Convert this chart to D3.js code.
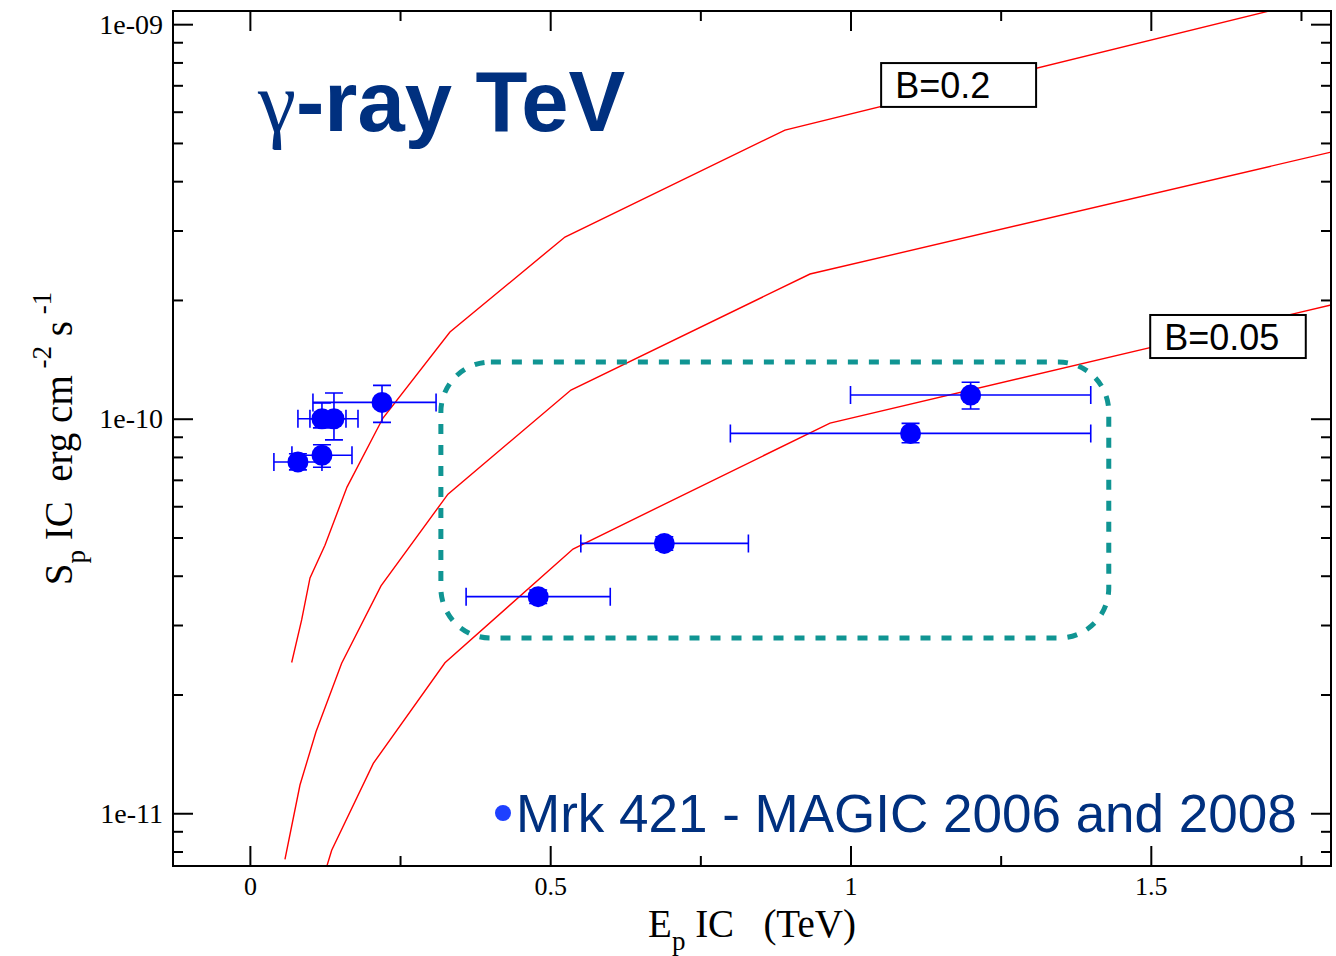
<!DOCTYPE html>
<html>
<head>
<meta charset="utf-8">
<script src="https://cdn.jsdelivr.net/npm/d3@7"></script>
<style>
  body { margin: 0; background: #fff; }
  svg { display: block; }
  text { white-space: pre; }
</style>
</head>
<body>
<svg id="chart" width="1336" height="956"></svg>
<script>
// ---- Axis ticks ----
const xMajorTicks = [0, 0.5, 1, 1.5];
const xTickLabels = ["0", "0.5", "1", "1.5"];
const xMinorTicks = [0.25, 0.75, 1.25, 1.75];
const yMajorTicks = [1e-11, 1e-10, 1e-9];
const yTickLabels = ["1e-11", "1e-10", "1e-09"];
const yMinorTicks = [8e-12, 9e-12,
  2e-11, 3e-11, 4e-11, 5e-11, 6e-11, 7e-11, 8e-11, 9e-11,
  2e-10, 3e-10, 4e-10, 5e-10, 6e-10, 7e-10, 8e-10, 9e-10];

// ---- Model curves: E_p IC (TeV) vs S_p IC (erg cm^-2 s^-1) ----
const curveB02E = [0.0696, 0.0862, 0.1001, 0.1250, 0.1617, 0.2216, 0.3331, 0.5246, 0.8909, 1.80];
const curveB02S = [2.41e-11, 3.09e-11, 3.95e-11, 4.78e-11, 6.71e-11, 1.004e-10, 1.659e-10, 2.888e-10, 5.39e-10, 1.18e-9];

const curveMidE = [0.0584, 0.0834, 0.1101, 0.1528, 0.2183, 0.3298, 0.5346, 0.9326, 1.80];
const curveMidS = [7.64e-12, 1.179e-11, 1.609e-11, 2.40e-11, 3.77e-11, 6.44e-11, 1.182e-10, 2.327e-10, 4.74e-10];

const curveB005E = [0.1279, 0.1362, 0.2055, 0.3248, 0.5380, 0.9659, 1.80];
const curveB005S = [7.32e-12, 8.06e-12, 1.338e-11, 2.406e-11, 4.675e-11, 9.75e-11, 1.942e-10];

// ---- Mrk 421, MAGIC 2006 and 2008 ----
const mrkE     = [0.08, 0.12, 0.12, 0.14, 0.22, 0.48, 0.69, 1.10, 1.20];
const mrkS     = [7.77e-11, 8.08e-11, 1.0e-10, 1.0e-10, 1.10e-10, 3.54e-11, 4.83e-11, 9.18e-11, 1.148e-10];
const mrkELow  = [0.04, 0.07, 0.08, 0.10, 0.105, 0.36, 0.551, 0.80, 1.00];
const mrkEHigh = [0.12, 0.17, 0.16, 0.18, 0.31, 0.60, 0.830, 1.40, 1.40];
const mrkSLow  = [7.42e-11, 7.53e-11, 9.48e-11, 8.84e-11, 9.79e-11, 3.40e-11, 4.64e-11, 8.69e-11, 1.058e-10];
const mrkSHigh = [8.15e-11, 8.59e-11, 1.097e-10, 1.162e-10, 1.215e-10, 3.68e-11, 5.02e-11, 9.73e-11, 1.237e-10];

// ---- Annotations (world coordinates) ----
const labelTexts = ["B=0.2", "B=0.05"];
const labelE = [[1.051, 1.309], [1.499, 1.758]];
const labelS = [[6.17e-10, 7.97e-10], [1.425e-10, 1.832e-10]];
const highlightE = [0.318, 1.430];
const highlightS = [2.78e-11, 1.392e-10];

// ---- Layout ----
const plot = { left: 173, right: 1331, top: 11, bottom: 866 };
const navy = "#00307f";
const serif = "'Liberation Serif', 'Times New Roman', serif";
const sans = "'Liberation Sans', Arial, sans-serif";

const svg = d3.select("#chart");

const x = d3.scaleLinear().domain([-0.128, 1.8]).range([plot.left, plot.right]);
const y = d3.scaleLog().domain([7.35e-12, 1.08e-9]).range([plot.bottom, plot.top]);

svg.append("defs").append("clipPath").attr("id", "plotClip")
  .append("rect")
  .attr("x", plot.left).attr("y", plot.top)
  .attr("width", plot.right - plot.left).attr("height", plot.bottom - plot.top);

// ---- Axes: ticks pointing inward on all four sides ----
function styleAxis(size) {
  return g => {
    g.select(".domain").remove();
    g.selectAll(".tick line").attr("stroke", "#000").attr("stroke-width", 2);
    g.selectAll(".tick text")
      .attr("fill", "#000")
      .style("font-family", serif)
      .style("font-size", size + "px");
  };
}

const xLabel = d => xTickLabels[xMajorTicks.indexOf(d)];
const yLabel = d => yTickLabels[yMajorTicks.indexOf(d)];

svg.append("g").attr("transform", `translate(0,${plot.bottom})`)
  .call(d3.axisBottom(x).tickValues(xMajorTicks).tickFormat(xLabel).tickSize(-20).tickPadding(11))
  .call(styleAxis(26));
svg.append("g").attr("transform", `translate(0,${plot.bottom})`)
  .call(d3.axisBottom(x).tickValues(xMinorTicks).tickFormat("").tickSize(-10))
  .call(styleAxis(26));
svg.append("g").attr("transform", `translate(0,${plot.top})`)
  .call(d3.axisTop(x).tickValues(xMajorTicks).tickFormat("").tickSize(-20))
  .call(styleAxis(26));
svg.append("g").attr("transform", `translate(0,${plot.top})`)
  .call(d3.axisTop(x).tickValues(xMinorTicks).tickFormat("").tickSize(-10))
  .call(styleAxis(26));

svg.append("g").attr("transform", `translate(${plot.left},0)`)
  .call(d3.axisLeft(y).tickValues(yMajorTicks).tickFormat(yLabel).tickSize(-20).tickPadding(10))
  .call(styleAxis(28));
svg.append("g").attr("transform", `translate(${plot.left},0)`)
  .call(d3.axisLeft(y).tickValues(yMinorTicks).tickFormat("").tickSize(-10))
  .call(styleAxis(28));
svg.append("g").attr("transform", `translate(${plot.right},0)`)
  .call(d3.axisRight(y).tickValues(yMajorTicks).tickFormat("").tickSize(-20))
  .call(styleAxis(28));
svg.append("g").attr("transform", `translate(${plot.right},0)`)
  .call(d3.axisRight(y).tickValues(yMinorTicks).tickFormat("").tickSize(-10))
  .call(styleAxis(28));

// ---- Model curves ----
const line = d3.line().x(d => x(d[0])).y(d => y(d[1]));
const curves = [
  d3.zip(curveB02E, curveB02S),
  d3.zip(curveMidE, curveMidS),
  d3.zip(curveB005E, curveB005S)
];
svg.append("g").attr("clip-path", "url(#plotClip)")
  .selectAll("path").data(curves).join("path")
  .attr("d", line)
  .attr("fill", "none")
  .attr("stroke", "#ff0000")
  .attr("stroke-width", 1.4);

// ---- Curve labels ----
const labels = svg.append("g").selectAll("g").data(labelTexts).join("g");
labels.append("rect")
  .attr("x", (d, i) => x(labelE[i][0]))
  .attr("y", (d, i) => y(labelS[i][1]))
  .attr("width", (d, i) => x(labelE[i][1]) - x(labelE[i][0]))
  .attr("height", (d, i) => y(labelS[i][0]) - y(labelS[i][1]))
  .attr("fill", "#fff").attr("stroke", "#000").attr("stroke-width", 2);
labels.append("text")
  .attr("x", (d, i) => x(labelE[i][0]) + 14)
  .attr("y", (d, i) => (y(labelS[i][0]) + y(labelS[i][1])) / 2 + 13)
  .style("font-family", sans)
  .style("font-size", "36px")
  .attr("fill", "#000")
  .text(d => d);

// ---- Highlighted region ----
svg.append("rect")
  .attr("x", x(highlightE[0])).attr("y", y(highlightS[1]))
  .attr("width", x(highlightE[1]) - x(highlightE[0]))
  .attr("height", y(highlightS[0]) - y(highlightS[1]))
  .attr("rx", 50).attr("ry", 50)
  .attr("fill", "none")
  .attr("stroke", "#109593")
  .attr("stroke-width", 5)
  .attr("stroke-dasharray", "10,11");

// ---- Data points with error bars ----
const pts = mrkE.map((e, i) => ({
  e, s: mrkS[i], eLo: mrkELow[i], eHi: mrkEHigh[i], sLo: mrkSLow[i], sHi: mrkSHigh[i]
}));
const cap = 9;
const eb = svg.append("g").attr("stroke", "#0000ff").attr("stroke-width", 1.6).attr("fill", "none");
pts.forEach(p => {
  const cx = x(p.e), cy = y(p.s);
  const x0 = x(p.eLo), x1 = x(p.eHi), y0 = y(p.sLo), y1 = y(p.sHi);
  eb.append("path").attr("d",
    `M${x0},${cy}H${x1}` +
    `M${x0},${cy - cap}V${cy + cap}M${x1},${cy - cap}V${cy + cap}` +
    `M${cx},${y0}V${y1}` +
    `M${cx - cap},${y0}H${cx + cap}M${cx - cap},${y1}H${cx + cap}`);
});
svg.append("g").selectAll("circle").data(pts).join("circle")
  .attr("cx", d => x(d.e)).attr("cy", d => y(d.s))
  .attr("r", 10.5).attr("fill", "#0000ff");

// ---- Frame ----
svg.append("rect")
  .attr("x", plot.left).attr("y", plot.top)
  .attr("width", plot.right - plot.left).attr("height", plot.bottom - plot.top)
  .attr("fill", "none").attr("stroke", "#000").attr("stroke-width", 2);

// ---- Title ----
const title = svg.append("text").attr("x", 258).attr("y", 131).attr("fill", navy);
title.append("tspan")
  .style("font-family", serif)
  .style("font-size", "86px")
  .text("γ");
title.append("tspan")
  .style("font-family", sans)
  .style("font-size", "85px").style("font-weight", "bold")
  .text("-ray TeV");

// ---- Legend ----
svg.append("circle").attr("cx", 503).attr("cy", 813).attr("r", 8).attr("fill", "#1e40ff");
svg.append("text").attr("x", 516).attr("y", 832)
  .attr("fill", navy)
  .style("font-family", sans)
  .style("font-size", "53px")
  .text("Mrk 421 - MAGIC 2006 and 2008");

// ---- Axis titles ----
const xt = svg.append("text")
  .attr("x", (plot.left + plot.right) / 2).attr("y", 937)
  .attr("text-anchor", "middle")
  .style("font-family", serif).style("font-size", "39px").attr("fill", "#000");
xt.append("tspan").text("E");
xt.append("tspan").attr("dy", 13).style("font-size", "27px").text("p");
xt.append("tspan").attr("dy", -13).text(" IC   (TeV)");

const yt = svg.append("text")
  .attr("transform", `translate(72,${(plot.top + plot.bottom) / 2}) rotate(-90)`)
  .attr("text-anchor", "middle")
  .style("font-family", serif).style("font-size", "39px").attr("fill", "#000");
yt.append("tspan").text("S");
yt.append("tspan").attr("dy", 13).style("font-size", "27px").text("p");
yt.append("tspan").attr("dy", -13).text(" IC  erg cm");
yt.append("tspan").attr("dy", -21).style("font-size", "27px").text(" -2");
yt.append("tspan").attr("dy", 21).text(" s");
yt.append("tspan").attr("dy", -21).style("font-size", "27px").text(" -1");
</script>
</body>
</html>
